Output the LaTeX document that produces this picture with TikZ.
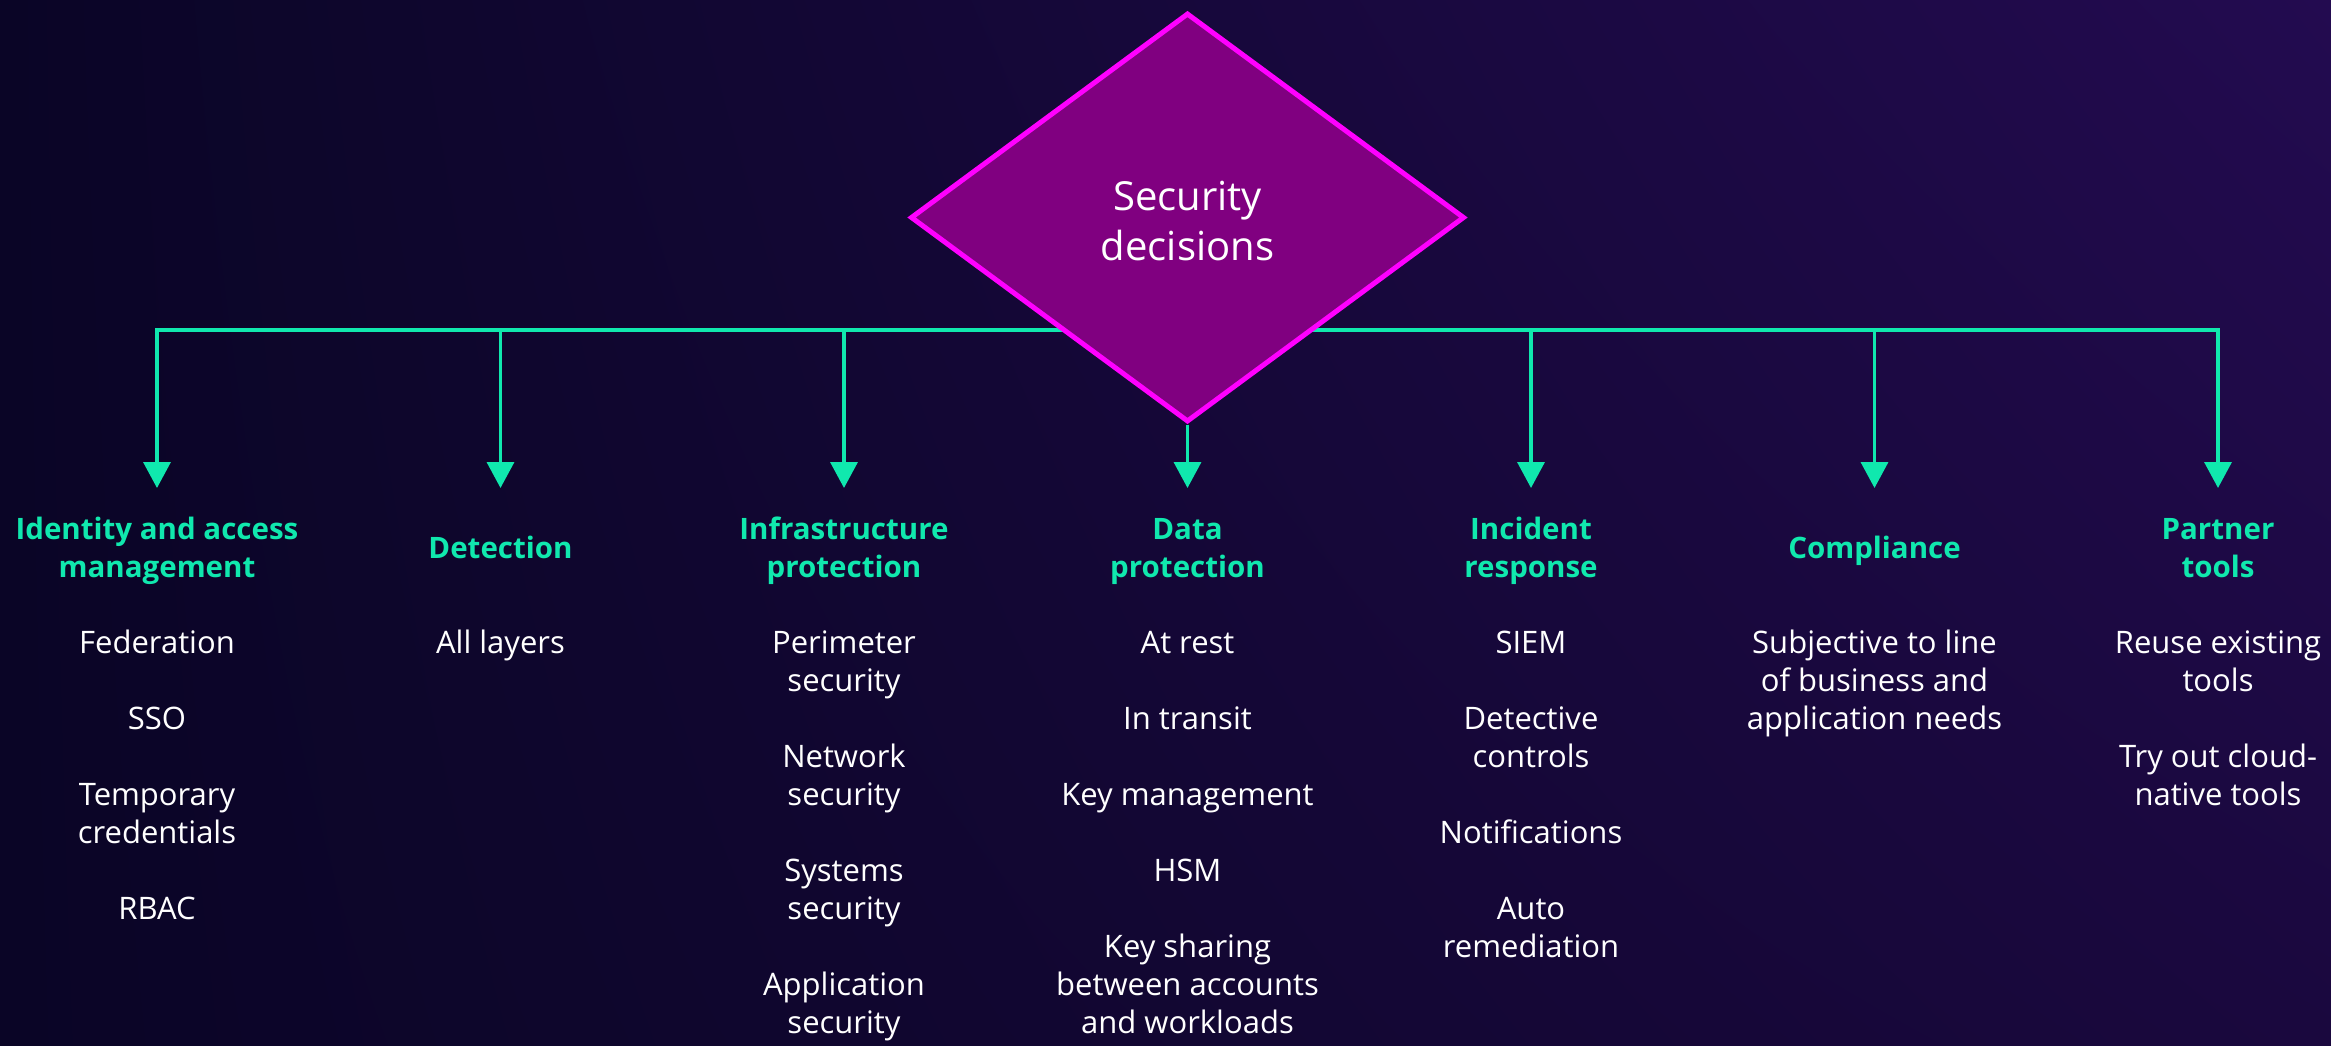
\documentclass[tikz,border=0pt]{standalone}
\usepackage{fontspec}
\setmainfont{Open Sans}
\usetikzlibrary{arrows.meta,shapes.geometric,shadings}
\definecolor{bgA}{RGB}{10,5,38}
\definecolor{bgB}{RGB}{35,11,80}
\definecolor{bgC}{RGB}{26,8,62}
\definecolor{mint}{RGB}{16,232,174}
\definecolor{dfill}{RGB}{128,0,128}
\definecolor{dline}{RGB}{255,0,255}
\begin{document}
\begin{tikzpicture}[x=1pt,y=-1pt,
  bus/.style={draw=mint,line width=3.5pt},
  arr/.style={draw=mint,line width=3.5pt,-{Triangle[length=26pt,width=27pt]}},
  head/.style={font=\bfseries\fontsize{29.5}{38}\selectfont,text=mint,align=center,inner sep=0pt,anchor=north},
  body/.style={font=\fontsize{31}{38}\selectfont,text=white,align=center,inner sep=0pt,anchor=north},
  decision/.style={diamond,draw=dline,fill=dfill,line width=5pt,minimum width=554pt,minimum height=409pt,inner sep=0pt,text=white,align=center,font=\fontsize{40}{50}\selectfont}]
\useasboundingbox (0,0) rectangle (2331,1045);
\shade[upper left=bgA, upper right=bgB, lower left=bgA, lower right=bgC] (0,0) rectangle (2331,1045);
\foreach \i/\x in {1/157,2/500.5,3/844,4/1187.5,5/1531,6/1874.5,7/2218} {
  \coordinate (b\i) at (\x,330);
  \coordinate (t\i) at (\x,488);
}
\draw[arr] (b4) -- (b1) -- (t1);
\draw[arr] (b4) -- (b7) -- (t7);
\node[decision] (sec) at (1187.5,217.5) {\rule{0pt}{36pt}Security\\decisions};
\foreach \i in {2,3,5,6} \draw[arr] (b\i) -- (t\i);
\draw[arr] (sec.south) -- (t4);
% headers
\node[head] (h1) at (157,512.4) {\strut Identity and access\\management};
\node[head] (h2) at (500.5,531.4) {\strut Detection};
\node[head] (h3) at (844,512.4) {\strut Infrastructure\\protection};
\node[head] (h4) at (1187.5,512.4) {\strut Data\\protection};
\node[head] (h5) at (1531,512.4) {\strut Incident\\response};
\node[head] (h6) at (1874.5,531.4) {\strut Compliance};
\node[head] (h7) at (2218,512.4) {\strut Partner\\tools};
% column 1
\node[body] (c1a) at (157,626.4) {\strut Federation};
\node[body] (c1b) at (157,702.4) {\strut SSO};
\node[body] (c1c) at (157,778.4) {\strut Temporary\\credentials};
\node[body] (c1d) at (157,892.4) {\strut RBAC};
% column 2
\node[body] (c2a) at (500.5,626.4) {\strut All layers};
% column 3
\node[body] (c3a) at (844,626.4) {\strut Perimeter\\security};
\node[body] (c3b) at (844,740.4) {\strut Network\\security};
\node[body] (c3c) at (844,854.4) {\strut Systems\\security};
\node[body] (c3d) at (844,968.4) {\strut Application\\security};
% column 4
\node[body] (c4a) at (1187.5,626.4) {\strut At rest};
\node[body] (c4b) at (1187.5,702.4) {\strut In transit};
\node[body] (c4c) at (1187.5,778.4) {\strut Key management};
\node[body] (c4d) at (1187.5,854.4) {\strut HSM};
\node[body] (c4e) at (1187.5,930.4) {\strut Key sharing\\between accounts\\and workloads};
% column 5
\node[body] (c5a) at (1531,626.4) {\strut SIEM};
\node[body] (c5b) at (1531,702.4) {\strut Detective\\controls};
\node[body] (c5c) at (1531,816.4) {\strut Notifications};
\node[body] (c5d) at (1531,892.4) {\strut Auto\\remediation};
% column 6
\node[body] (c6a) at (1874.5,626.4) {\strut Subjective to line\\of business and\\application needs};
% column 7
\node[body] (c7a) at (2218,626.4) {\strut Reuse existing\\tools};
\node[body] (c7b) at (2218,740.4) {\strut Try out cloud-\\native tools};
\end{tikzpicture}
\end{document}
